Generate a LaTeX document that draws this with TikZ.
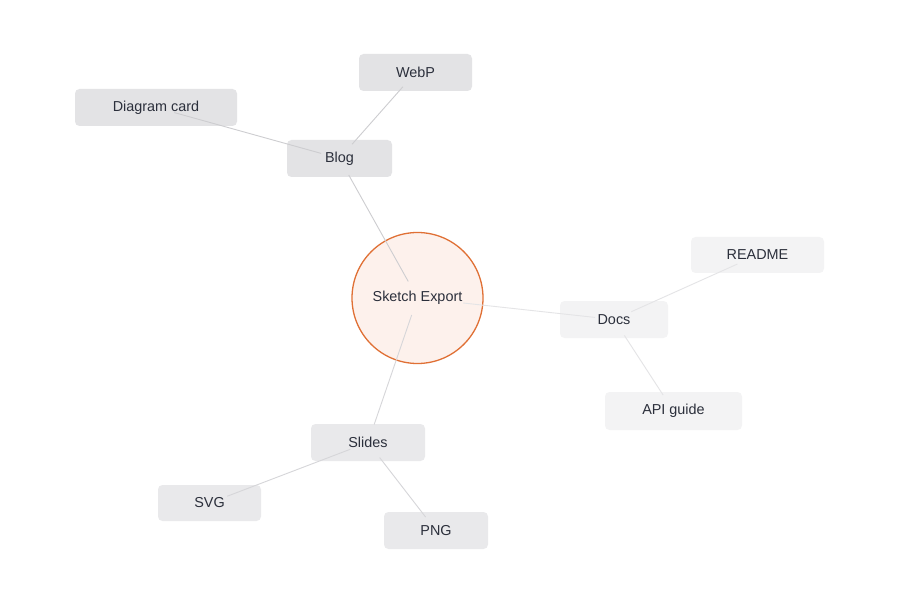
\documentclass[tikz,border=0pt]{standalone}
\usepackage{fontspec}
\setmainfont{Liberation Sans}
\definecolor{txt}{HTML}{2B2F3B}
\definecolor{blogfill}{HTML}{E3E3E5}
\definecolor{slidefill}{HTML}{E9E9EB}
\definecolor{docfill}{HTML}{F3F3F4}
\definecolor{bloglink}{HTML}{CDCDD0}
\definecolor{slidelink}{HTML}{D6D6D9}
\definecolor{doclink}{HTML}{E4E4E6}
\definecolor{rootfill}{HTML}{FDF1EC}
\definecolor{rootdraw}{HTML}{E07035}
\begin{document}
\begin{tikzpicture}[x=1pt,y=-1pt,
  card/.style={rectangle, rounded corners=4.5pt, inner sep=0pt, text=txt,
    font=\fontsize{14.4}{16}\selectfont},
  rootnode/.style={circle, draw=rootdraw, line width=1.3pt, fill=rootfill,
    minimum size=131pt, inner sep=0pt, text=txt, font=\fontsize{14.4}{16}\selectfont},
  link/.style={line width=0.9pt, shorten <=19pt, shorten >=19pt}]
\fill[white] (0,0) rectangle (900,604);
\useasboundingbox (0,0) rectangle (900,604);
% nodes
\node[rootnode] (root) at (417.5,298) {Sketch Export};
\node[card, fill=blogfill, minimum width=105pt, minimum height=37pt] (blog) at (339.5,158.5) {Blog};
\node[card, fill=blogfill, minimum width=113pt, minimum height=37pt] (webp) at (415.5,72.5) {WebP};
\node[card, fill=blogfill, minimum width=162pt, minimum height=37pt] (dcard) at (156,107.5) {Diagram card};
\node[card, fill=docfill, minimum width=108pt, minimum height=37pt] (docs) at (614,319.5) {Docs};
\node[card, fill=docfill, minimum width=133pt, minimum height=36pt] (readme) at (757.5,255) {README};
\node[card, fill=docfill, minimum width=137pt, minimum height=38pt] (api) at (673.5,411) {API guide};
\node[card, fill=slidefill, minimum width=114pt, minimum height=37pt] (slides) at (368,442.5) {Slides};
\node[card, fill=slidefill, minimum width=103pt, minimum height=36pt] (svg) at (209.5,503) {SVG};
\node[card, fill=slidefill, minimum width=104pt, minimum height=37pt] (png) at (436,530.5) {PNG};
% connectors
\draw[link, bloglink] (blog.center) -- (root.center);
\draw[link, bloglink] (blog.center) -- (dcard.center);
\draw[link, bloglink] (blog.center) -- (webp.center);
\draw[link, doclink, shorten <=46pt] (root.center) -- (docs.center);
\draw[link, doclink, shorten >=22pt] (docs.center) -- (readme.center);
\draw[link, doclink] (docs.center) -- (api.center);
\draw[link, slidelink, shorten <=18pt] (root.center) -- (slides.center);
\draw[link, slidelink] (slides.center) -- (svg.center);
\draw[link, slidelink, shorten >=17pt] (slides.center) -- (png.center);
\end{tikzpicture}
\end{document}
